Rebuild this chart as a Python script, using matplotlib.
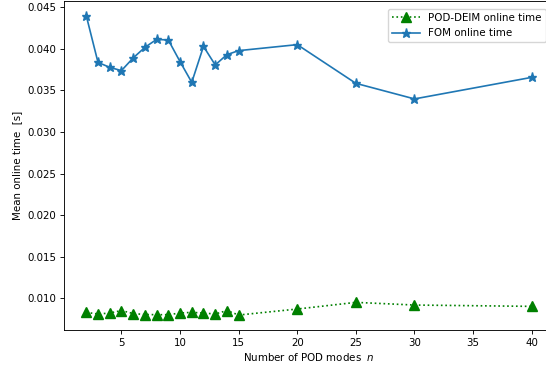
import numpy as np
from matplotlib import pyplot as plt

n_modes = [2, 3, 4, 5, 6, 7, 8, 9, 10, 11, 12, 13, 14, 15, 20, 25, 30, 40]

deim_time = [0.00832, 0.00812, 0.00824, 0.00854, 0.00818, 0.00806, 0.00804, 0.00804,
             0.00824, 0.00832, 0.00824, 0.00812, 0.00854, 0.00800, 0.00872, 0.00952,
             0.00920, 0.00904]

fom_time = [0.04396, 0.03835, 0.03775, 0.03736, 0.03888, 0.04015, 0.04111, 0.04104,
            0.03844, 0.03595, 0.04027, 0.03804, 0.03928, 0.03976, 0.04048, 0.03583,
            0.03396, 0.03655]

# original looks like a default figure rendered at lower dpi, so scale things down
plt.rcParams['font.size'] = 7.4
plt.rcParams['lines.linewidth'] = 1.2
plt.rcParams['axes.linewidth'] = 0.64
for a in ('xtick', 'ytick'):
    plt.rcParams[a + '.major.size'] = 3.0
    plt.rcParams[a + '.major.width'] = 0.64
    plt.rcParams[a + '.major.pad'] = 2.5

fig = plt.figure(figsize=(5.46, 3.69), dpi=100)
# axes runs a bit past the right edge, like the cropped original
ax = fig.add_axes([0.1172, 0.1057, 0.8974, 0.8924])

ax.plot(n_modes, deim_time, 'g^:', markersize=6.5, label='POD-DEIM online time')
ax.plot(n_modes, fom_time, '*-', color='C0', markersize=6.5, label='FOM online time')

ax.set_xlabel('Number of POD modes  $n$', labelpad=2.5)
ax.set_ylabel('Mean online time  [s]')
ax.set_xticks([5, 10, 15, 20, 25, 30, 35, 40])
ax.legend(loc='upper right', handlelength=2.7, borderaxespad=0.8)

fig.savefig('out.png', dpi=100)
